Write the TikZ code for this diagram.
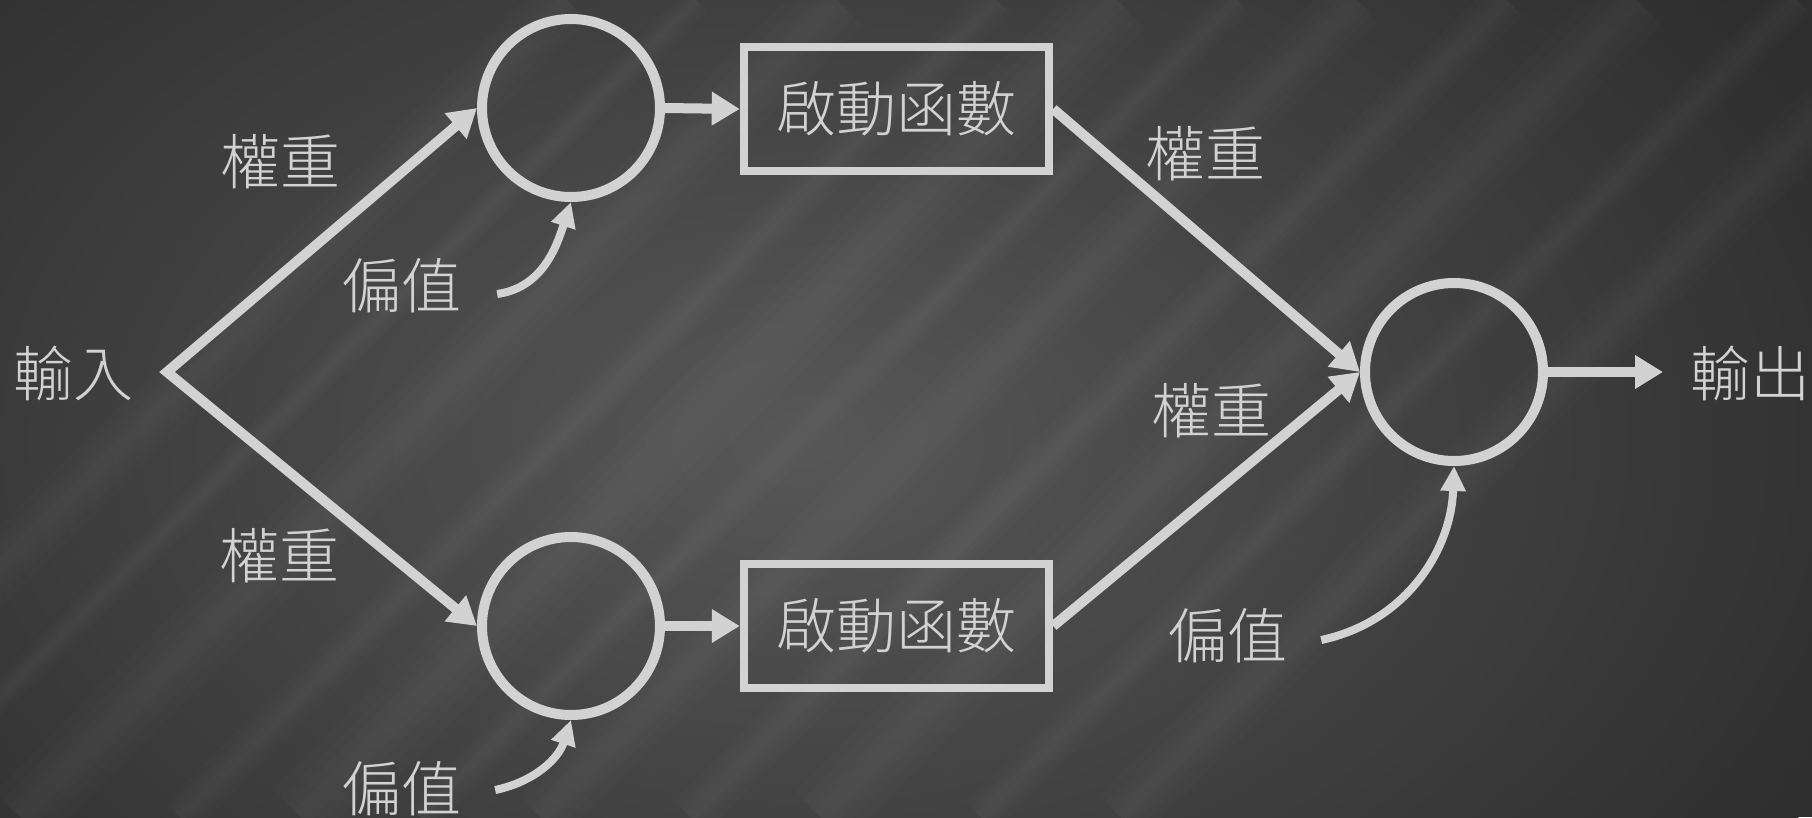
\documentclass[tikz,border=0pt]{standalone}
\usepackage{fontspec}
\setmainfont{Noto Sans CJK TC}[UprightFont=* Light]
\usetikzlibrary{arrows.meta}
\definecolor{bgdark}{HTML}{2E2E2E}
\definecolor{bglight}{HTML}{575757}
\definecolor{ink}{HTML}{D2D2D2}
\tikzset{
  neuron/.style={circle, draw=ink, line width=10pt, minimum size=178pt, inner sep=0pt},
  actbox/.style={rectangle, draw=ink, line width=8.5pt, minimum width=305pt, minimum height=124pt, inner sep=0pt, text=ink, font=\fontsize{60}{60}\selectfont},
  lbl/.style={text=ink, font=\fontsize{60}{60}\selectfont, inner sep=0pt},
  conn/.style={draw=ink, line width=10pt, line join=miter, -{Triangle[length=28pt,width=32pt]}},
  conntwo/.style={draw=ink, line width=10pt, line join=miter, {Triangle[length=28pt,width=32pt]}-{Triangle[length=28pt,width=32pt]}},
  biasarrow/.style={draw=ink, line width=8pt, -{Triangle[length=25pt,width=24pt]}},
  streak/.style={draw=white},
}
\begin{document}
\begin{tikzpicture}[x=1pt,y=-1pt]
\fill[bgdark] (0,0) rectangle (1812,817);
\begin{scope}
  \clip (0,0) rectangle (1812,817);
  \shade[inner color=bglight, outer color=bgdark] (800,440) ellipse (1150 and 760);
  \foreach \x/\w in {-250/60, -120/30, 20/70, 180/40, 300/80, 420/35, 540/60, 690/45, 820/70, 980/40, 1120/60}{
    \foreach \f in {1, 0.7, 0.45, 0.25}{
      \draw[streak, line width=\f*\w pt, opacity=0.01] (\x,817) -- (\x+817,0);
    }
  }
\end{scope}
\useasboundingbox (0,0) rectangle (1812,817);

\node[neuron] (n1) at (571,108) {};
\node[neuron] (n2) at (571,626) {};
\node[neuron] (n3) at (1454,372) {};
\node[actbox] (a1) at (896.5,109) {啟動函數};
\node[actbox] (a2) at (896.5,626) {啟動函數};
\node[lbl] (in) at (73,373) {輸入};
\node[lbl] (out) at (1750,373) {輸出};
\coordinate (j) at (167,372);
\coordinate (oend) at (1663,372);

\node[lbl] (w1) at (280,162) {權重};
\node[lbl] (w2) at (279,556) {權重};
\node[lbl] (w3) at (1205,154) {權重};
\node[lbl] (w4) at (1211,411) {權重};

\node[lbl] (b1) at (401,286) {偏值};
\node[lbl] (b2) at (401,789) {偏值};
\node[lbl] (b3) at (1227,636) {偏值};

\draw[conntwo] (n1.west) -- (j) -- (n2.west);
\draw[conn] (n1.east) -- (a1.west);
\draw[conn] (n2.east) -- (a2.west);
\draw[conn] (a1.east) -- (n3.west);
\draw[conn] (a2.east) -- (n3.west);
\draw[conn] (n3.east) -- (oend);

\draw[biasarrow] ([xshift=36pt,yshift=-8pt]b1.east) to[out=8,in=-108] (n1.south);
\draw[biasarrow] ([xshift=34pt,yshift=-1pt]b2.east) to[out=12,in=-108] (n2.south);
\draw[biasarrow] ([xshift=34pt,yshift=-4pt]b3.east) to[out=12,in=-92] (n3.south);
\end{tikzpicture}
\end{document}
